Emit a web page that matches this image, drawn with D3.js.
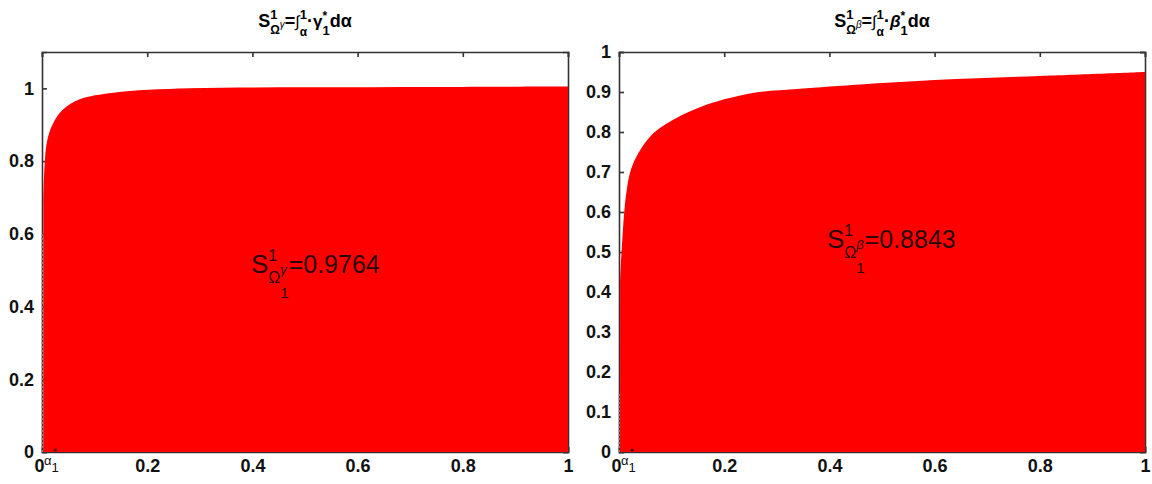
<html>
<head>
  <script src="https://cdn.jsdelivr.net/npm/d3@7/dist/d3.min.js"></script>
</head>
<style>
  body { margin: 0; background: #fff; }
  svg { font-family: "Liberation Sans", Arial, sans-serif; }
  .axis path, .axis line { stroke: #333; stroke-width: 1.6; }
  .axis text { font-size: 18px; font-weight: bold; fill: #111; }
</style>
<body>
<script type="text/javascript">
  // data
  var xTicks = [0, 0.2, 0.4, 0.6, 0.8, 1];
  var yTicksGamma = [0, 0.2, 0.4, 0.6, 0.8, 1];
  var yTicksBeta = [0, 0.1, 0.2, 0.3, 0.4, 0.5, 0.6, 0.7, 0.8, 0.9, 1];

  var alphaGamma = [0.0025, 0.009, 0.0215, 0.04, 0.072, 0.136, 0.28, 0.5, 0.75, 1];
  var coverGamma = [0.686, 0.85, 0.905, 0.942, 0.97, 0.988, 1.0, 1.003, 1.004, 1.005];

  var alphaBeta = [0.002, 0.005, 0.0146, 0.027, 0.059, 0.091, 0.154, 0.249, 0.344, 0.6, 0.8, 1];
  var coverBeta = [0.42, 0.504, 0.654, 0.721, 0.788, 0.821, 0.862, 0.896, 0.908, 0.93, 0.94, 0.95];

  var startGamma = 0.6, startBeta = 0.15;   // dotted segment at alpha = 0
  var alpha1 = 0.025;
  var areaGamma = '0.9764', areaBeta = '0.8843';

  var svg = d3.select('body').append('svg')
    .attr('width', 1152)
    .attr('height', 484);

  // lays out a row of text pieces; stack = put under/over the previous piece
  function mathText(g, x, y, pieces) {
    var cx = x, prevStart = x;
    pieces.forEach(function (p) {
      var px = p.stack ? prevStart : cx;
      var t = g.append('text')
        .attr('x', px)
        .attr('y', y + (p.dy || 0))
        .attr('font-size', p.fs)
        .attr('font-weight', p.bold ? 'bold' : 'normal')
        .attr('font-style', p.italic ? 'italic' : 'normal')
        .attr('fill', p.color || '#000')
        .text(p.t);
      var w = t.node().getComputedTextLength();
      if (p.stack) {
        cx = Math.max(cx, px + w);
      } else {
        prevStart = px;
        cx = px + w;
      }
    });
    return cx - x;
  }

  function titlePieces(greek) {
    return [
      {t: 'S', fs: 18, bold: true},
      {t: '1', fs: 13, bold: true, dy: -8},
      {t: '\u03A9', fs: 12, bold: true, dy: 7, stack: true},
      {t: greek, fs: 10, italic: true, dy: 1},
      {t: '=', fs: 18, bold: true},
      {t: '\u222B', fs: 16},
      {t: '1', fs: 13, bold: true, dy: -8},
      {t: '\u03B1', fs: 12, bold: true, dy: 9, stack: true},
      {t: '\u00B7', fs: 18, bold: true},
      {t: greek, fs: 17, bold: true, italic: greek == '\u03B2'},
      {t: '*', fs: 12, bold: true, dy: -7},
      {t: '1', fs: 13, bold: true, dy: 8, stack: true},
      {t: 'd', fs: 18, bold: true},
      {t: '\u03B1', fs: 18, bold: true}
    ];
  }

  function notePieces(greek, val) {
    var c = '#2a0606';
    return [
      {t: 'S', fs: 26, color: c},
      {t: '1', fs: 16, dy: -12, color: c},
      {t: '\u03A9', fs: 16, dy: 10, stack: true, color: c},
      {t: greek, fs: 13, italic: true, dy: 1, color: c},
      {t: '1', fs: 15, dy: 25, stack: true, color: c},
      {t: '=' + val, fs: 25, color: c}
    ];
  }

  function drawPanel(cfg) {
    var g = svg.append('g');
    var x = d3.scaleLinear().domain([0, 1]).range([cfg.left, cfg.right]);
    var y = d3.scaleLinear().domain([0, cfg.ymax]).range([452, 52]);
    var fmt = d3.format('~g');

    g.append('g').attr('class', 'axis')
      .attr('transform', 'translate(0,52)')
      .call(d3.axisTop(x).tickValues(xTicks).tickSize(-5).tickFormat(''));
    g.append('g').attr('class', 'axis')
      .attr('transform', 'translate(' + cfg.right + ',0)')
      .call(d3.axisRight(y).tickValues(cfg.yTicks).tickSize(-5).tickFormat(''));
    var xa = g.append('g').attr('class', 'axis')
      .attr('transform', 'translate(0,452)')
      .call(d3.axisBottom(x).tickValues(xTicks).tickSize(-5).tickPadding(7).tickFormat(fmt));
    // the "0" sits just left of the alpha_1 label
    xa.selectAll('.tick text').filter(function (d) { return d === 0; })
      .attr('text-anchor', 'end')
      .attr('x', 2);
    g.append('g').attr('class', 'axis')
      .attr('transform', 'translate(' + cfg.left + ',0)')
      .call(d3.axisLeft(y).tickValues(cfg.yTicks).tickSize(-5).tickPadding(8).tickFormat(fmt));
    g.selectAll('.axis .domain').attr('stroke-width', 1.8);

    var pts = cfg.xs.map(function (d, i) { return [d, cfg.ys[i]]; });
    var area = d3.area()
      .x(function (d) { return x(d[0]); })
      .y0(y(0))
      .y1(function (d) { return y(d[1]); })
      .curve(d3.curveCatmullRom.alpha(0.5));
    g.append('path')
      .attr('d', area(pts))
      .attr('fill', '#ff0000');

    // dotted segment at alpha = 0
    g.append('line')
      .attr('x1', x(0)).attr('x2', x(0))
      .attr('y1', y(0)).attr('y2', y(cfg.start))
      .attr('stroke', '#999')
      .attr('stroke-width', 1.5)
      .attr('stroke-dasharray', '2,2');

    // alpha_1 marker
    g.append('circle')
      .attr('cx', x(alpha1)).attr('cy', y(0) - 2)
      .attr('r', 1.6)
      .attr('fill', '#5a0000');
    mathText(g, x(0) + 2, 465, [
      {t: '\u03B1', fs: 13, color: '#111'},
      {t: '1', fs: 13, dy: 7, color: '#111'}
    ]);

    // title, centred over the panel
    var tg = g.append('g');
    var tw = mathText(tg, 0, 27, titlePieces(cfg.greek));
    tg.attr('transform', 'translate(' + ((cfg.left + cfg.right) / 2 - tw / 2) + ',0)');

    // area annotation
    mathText(g, cfg.noteX, cfg.noteY, notePieces(cfg.greek, cfg.value));
  }

  drawPanel({left: 42, right: 568, ymax: 1.1, yTicks: yTicksGamma,
    xs: alphaGamma, ys: coverGamma, start: startGamma,
    greek: '\u03B3', value: areaGamma, noteX: 251, noteY: 273});
  drawPanel({left: 619, right: 1145, ymax: 1, yTicks: yTicksBeta,
    xs: alphaBeta, ys: coverBeta, start: startBeta,
    greek: '\u03B2', value: areaBeta, noteX: 827, noteY: 248});
</script>
</body>
</html>
